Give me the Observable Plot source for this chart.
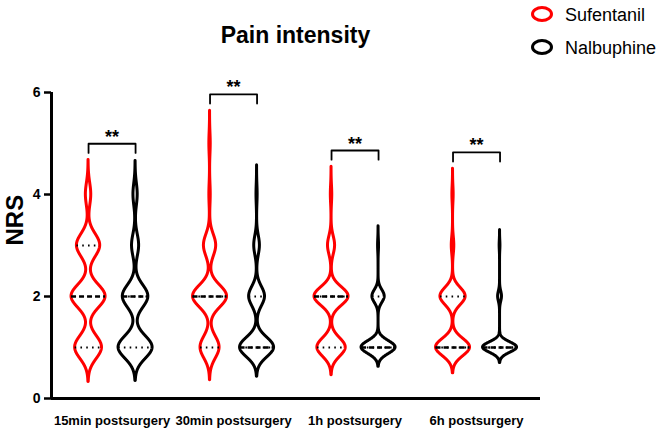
<!DOCTYPE html>
<html><head><meta charset="utf-8">
<script src="https://cdn.jsdelivr.net/npm/d3@7"></script>
<script src="https://cdn.jsdelivr.net/npm/@observablehq/plot@0.6"></script>
<style>
body{margin:0;background:#fff;font-family:"Liberation Sans",Arial,Helvetica,sans-serif}
#chart{width:660px;height:435px}
</style>
</head><body><div id="chart"></div>
<script>
// ---- data ----
const groups = ["15min postsurgery", "30min postsurgery", "1h postsurgery", "6h postsurgery"];
const series = ["Sufentanil", "Nalbuphine"];
const seriesColors = ["#ff0000", "#000000"];
const nrsLevels = [1, 2, 3, 4, 5];
// patient counts at each NRS level, per time point
const sufentanilCounts = [[15, 19, 13, 3, 0], [14, 25, 9, 1, 1], [20, 24, 5, 1, 0], [27, 20, 2, 1, 0]];
const nalbuphineCounts = [[24, 18, 5, 3, 0], [30, 14, 5, 1, 0], [36, 13, 1, 0, 0], [44, 5, 1, 0, 0]];
const significance = ["**", "**", "**", "**"];
const yTicks = [0, 2, 4, 6];
const yLabel = "NRS";
const title = "Pain intensity";

// ---- layout ----
const W = 660, H = 435, mL = 51, mR = 120, mT = 92, mB = 37;
const pairOffset = 0.387, halfW = 0.14;
const xDomain = [-0.305, 3.72];

const outlines = [], quartiles = [], tops = [];
[sufentanilCounts, nalbuphineCounts].forEach((countsBy, s) => {
  countsBy.forEach((counts, g) => {
    const values = counts.flatMap((c, i) => d3.range(c).map(() => nrsLevels[i]));
    const h = 0.25 * d3.deviation(values);
    const present = nrsLevels.filter((v, i) => counts[i] > 0);
    const lo = d3.min(present) - 3 * h, hi = d3.max(present) + 3 * h;
    const dens = y => d3.sum(counts, (c, i) => c * Math.exp(-0.5 * ((y - nrsLevels[i]) / h) ** 2));
    const grid = d3.range(lo, hi, 0.004).concat([hi]);
    const maxD = d3.max(grid, dens);
    const cx = g + s * pairOffset;
    const key = series[s] + "|" + groups[g];
    grid.forEach(y => {
      const w = dens(y) / maxD * halfW;
      outlines.push({key, series: series[s], y, x1: cx - w, x2: cx + w});
    });
    [0.25, 0.75, 0.5].forEach(p => {
      const v = d3.quantile(values, p);
      const w = dens(v) / maxD * halfW;
      quartiles.push({y: v, x1: cx - w, x2: cx + w, median: p === 0.5});
    });
    tops[g] = Math.max(tops[g] ?? 0, hi);
  });
});

const brackets = [], stars = [];
groups.forEach((grp, g) => {
  const y = tops[g] + 0.32;
  const xa = g, xb = g + pairOffset;
  [[xa, y - 0.18], [xa, y], [xb, y], [xb, y - 0.18]].forEach(([x, yy]) => brackets.push({g, x, y: yy}));
  stars.push({x: (xa + xb) / 2, y, text: significance[g]});
});
const groupCenters = groups.map((d, g) => g + pairOffset / 2);

const plot = Plot.plot({
  width: W, height: H,
  marginLeft: mL, marginRight: mR, marginTop: mT, marginBottom: mB,
  style: {fontFamily: '"Liberation Sans", Arial, Helvetica, sans-serif', background: "#fff"},
  x: {domain: xDomain},
  y: {domain: [0, 6]},
  color: {domain: series, range: seriesColors},
  marks: [
    Plot.areaX(outlines, {y: "y", x1: "x1", x2: "x2", z: "key", fill: "none", stroke: "series", strokeWidth: 3, strokeLinejoin: "round"}),
    Plot.ruleY(quartiles.filter(d => !d.median), {y: "y", x1: "x1", x2: "x2", stroke: "#000", strokeWidth: 2, strokeDasharray: "1.6,4.2"}),
    Plot.ruleY(quartiles.filter(d => d.median), {y: "y", x1: "x1", x2: "x2", stroke: "#000", strokeWidth: 2.4, strokeDasharray: "5,3"}),
    Plot.line(brackets, {x: "x", y: "y", z: "g", stroke: "#000", strokeWidth: 1.8}),
    Plot.text(stars, {x: "x", y: "y", text: "text", lineAnchor: "bottom", dy: -1, fontSize: 18, fontWeight: "bold"}),
    Plot.ruleY([0], {strokeWidth: 3}),
    Plot.ruleX([xDomain[0]], {strokeWidth: 3}),
    Plot.axisY({ticks: yTicks, tickFormat: d3.format("d"), tickSize: 7, tickPadding: 4, strokeWidth: 2.5, fontSize: 14, fontWeight: "bold", label: null}),
    Plot.text([yLabel], {frameAnchor: "left", rotate: -90, dx: -36, fontSize: 24, fontWeight: "bold"}),
    Plot.axisX({ticks: groupCenters, tickFormat: d => groups[Math.round(d - pairOffset / 2)], tickSize: 0, tickPadding: 17, fontSize: 13, fontWeight: "bold", label: null})
  ]
});

const svg = d3.select(plot);
svg.append("text").attr("x", (mL + W - mR) / 2).attr("y", 43).attr("text-anchor", "middle")
  .attr("font-size", 23).attr("font-weight", "bold").attr("fill", "#000").text(title);
series.forEach((name, i) => {
  const cy = 14 + i * 33;
  svg.append("ellipse").attr("cx", 542).attr("cy", cy).attr("rx", 9.5).attr("ry", 6.5)
    .attr("fill", "none").attr("stroke", seriesColors[i]).attr("stroke-width", 3);
  svg.append("text").attr("x", 565).attr("y", cy + 6.5).attr("text-anchor", "start")
    .attr("font-size", 18).attr("fill", "#000").text(name);
});
document.getElementById("chart").appendChild(plot);
</script>
</body></html>
